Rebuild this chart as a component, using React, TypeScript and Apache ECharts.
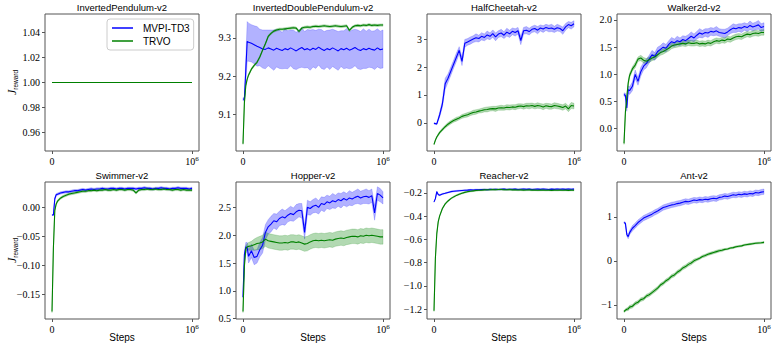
import React, { useEffect, useRef } from "react";
import * as echarts from "echarts";

// x positions (environment steps)
const STEPS = [
  0, 10000, 20000, 30000, 40000, 60000, 80000, 100000, 120000, 140000,
  160000, 180000, 200000, 220000, 240000, 260000, 280000, 300000, 320000, 340000,
  360000, 380000, 400000, 420000, 440000, 460000, 480000, 500000, 520000, 540000,
  560000, 580000, 600000, 620000, 640000, 660000, 680000, 700000, 720000, 740000,
  760000, 780000, 800000, 820000, 840000, 860000, 880000, 900000, 920000, 940000,
  960000, 980000, 1000000,
];
const X_TICKS = [0, 1000000];

// ---- InvertedPendulum-v2
const IP_MVPI = [
  1, 1, 1, 1, 1, 1, 1, 1, 1, 1, 1, 1, 1, 1, 1, 1, 1, 1, 1, 1, 1, 1, 1, 1, 1, 1, 1,
  1, 1, 1, 1, 1, 1, 1, 1, 1, 1, 1, 1, 1, 1, 1, 1, 1, 1, 1, 1, 1, 1, 1, 1, 1, 1,
];
const IP_TRVO = [
  1, 1, 1, 1, 1, 1, 1, 1, 1, 1, 1, 1, 1, 1, 1, 1, 1, 1, 1, 1, 1, 1, 1, 1, 1, 1, 1,
  1, 1, 1, 1, 1, 1, 1, 1, 1, 1, 1, 1, 1, 1, 1, 1, 1, 1, 1, 1, 1, 1, 1, 1, 1, 1,
];
const IP_TICKS = [0.96, 0.98, 1.0, 1.02, 1.04];

// ---- InvertedDoublePendulum-v2
const IDP_MVPI = [
  9.139, 9.140, 9.215, 9.291, 9.289, 9.286, 9.282, 9.278, 9.275, 9.271,
  9.270, 9.274, 9.271, 9.268, 9.273, 9.270, 9.267, 9.272, 9.269, 9.274,
  9.270, 9.266, 9.271, 9.275, 9.269, 9.272, 9.268, 9.273, 9.270, 9.276,
  9.271, 9.267, 9.272, 9.269, 9.274, 9.270, 9.266, 9.272, 9.269, 9.273,
  9.268, 9.271, 9.275, 9.270, 9.267, 9.272, 9.269, 9.273, 9.270, 9.268,
  9.274, 9.269, 9.271,
];
const IDP_MVPI_SD = [
  0.004, 0.005, 0.03, 0.052, 0.05, 0.049, 0.05, 0.052, 0.048, 0.05,
  0.051, 0.047, 0.05, 0.053, 0.049, 0.05, 0.048, 0.052, 0.05, 0.047,
  0.051, 0.049, 0.05, 0.052, 0.048, 0.05, 0.053, 0.049, 0.05, 0.047,
  0.051, 0.05, 0.048, 0.052, 0.049, 0.05, 0.051, 0.047, 0.05, 0.052,
  0.049, 0.05, 0.048, 0.051, 0.05, 0.052, 0.049, 0.05, 0.048, 0.051,
  0.05, 0.049, 0.05,
];
const IDP_TRVO = [
  9.022, 9.13, 9.175, 9.192, 9.203, 9.218, 9.228, 9.236, 9.25, 9.268,
  9.285, 9.304, 9.312, 9.318, 9.321, 9.323, 9.323, 9.324, 9.325, 9.326,
  9.327, 9.326, 9.317, 9.326, 9.328, 9.329, 9.328, 9.330, 9.331, 9.330,
  9.331, 9.332, 9.331, 9.330, 9.331, 9.332, 9.331, 9.330, 9.331, 9.332,
  9.320, 9.328, 9.332, 9.333, 9.332, 9.334, 9.333, 9.335, 9.333, 9.334,
  9.333, 9.334, 9.334,
];
const IDP_TRVO_SD = [
  0.002, 0.003, 0.003, 0.003, 0.003, 0.003, 0.003, 0.003, 0.003, 0.003,
  0.003, 0.003, 0.003, 0.003, 0.003, 0.003, 0.003, 0.003, 0.003, 0.003,
  0.003, 0.003, 0.003, 0.003, 0.003, 0.003, 0.003, 0.003, 0.003, 0.003,
  0.003, 0.003, 0.003, 0.003, 0.003, 0.003, 0.003, 0.003, 0.003, 0.003,
  0.003, 0.003, 0.003, 0.003, 0.003, 0.003, 0.003, 0.003, 0.003, 0.003,
  0.003, 0.003, 0.003,
];
const IDP_TICKS = [9.1, 9.2, 9.3];

// ---- HalfCheetah-v2
const HC_MVPI = [
  -0.02, -0.03, -0.04, 0.12, 0.28, 0.68, 1.4, 1.6, 1.85, 2.1,
  2.35, 2.6, 2.2, 2.85, 2.9, 2.95, 3.0, 3.05, 3.02, 3.1,
  3.06, 3.15, 3.1, 3.2, 3.08, 3.18, 3.22, 3.14, 3.25, 3.19,
  3.28, 3.24, 3.3, 2.95, 3.3, 3.32, 3.27, 3.35, 3.38, 3.32,
  3.4, 3.36, 3.42, 3.38, 3.4, 3.35, 3.41, 3.38, 3.3, 3.44,
  3.52, 3.48, 3.55,
];
const HC_MVPI_SD = [
  0.02, 0.02, 0.03, 0.05, 0.08, 0.12, 0.2, 0.15, 0.15, 0.14,
  0.15, 0.13, 0.15, 0.14, 0.12, 0.13, 0.12, 0.14, 0.12, 0.13,
  0.12, 0.14, 0.12, 0.13, 0.14, 0.12, 0.13, 0.12, 0.14, 0.13,
  0.12, 0.13, 0.12, 0.15, 0.12, 0.13, 0.12, 0.11, 0.12, 0.13,
  0.11, 0.12, 0.11, 0.12, 0.13, 0.11, 0.12, 0.11, 0.13, 0.12,
  0.11, 0.12, 0.11,
];
const HC_TRVO = [
  -0.77, -0.62, -0.51, -0.43, -0.35, -0.24, -0.14, -0.05, 0.02, 0.08,
  0.13, 0.17, 0.23, 0.26, 0.29, 0.33, 0.37, 0.39, 0.42, 0.44,
  0.47, 0.48, 0.5, 0.51, 0.5, 0.53, 0.54, 0.53, 0.56, 0.55,
  0.57, 0.56, 0.59, 0.6, 0.58, 0.61, 0.6, 0.62, 0.59, 0.62,
  0.6, 0.57, 0.61, 0.59, 0.58, 0.62, 0.6, 0.58, 0.55, 0.6,
  0.5, 0.62, 0.6,
];
const HC_TRVO_SD = [
  0.02, 0.03, 0.03, 0.04, 0.04, 0.05, 0.05, 0.06, 0.06, 0.06,
  0.07, 0.06, 0.07, 0.07, 0.08, 0.07, 0.08, 0.08, 0.07, 0.08,
  0.08, 0.09, 0.08, 0.08, 0.09, 0.08, 0.09, 0.08, 0.09, 0.09,
  0.08, 0.09, 0.09, 0.08, 0.09, 0.09, 0.1, 0.09, 0.09, 0.1,
  0.09, 0.1, 0.09, 0.1, 0.09, 0.1, 0.1, 0.09, 0.1, 0.1,
  0.1, 0.11, 0.1,
];
const HC_TICKS = [0, 1, 2, 3];

// ---- Walker2d-v2
const WK_MVPI = [
  0.63, 0.61, 0.38, 0.72, 0.7, 0.78, 1.0, 0.87, 1.05, 1.15,
  1.2, 1.28, 1.36, 1.33, 1.42, 1.46, 1.5, 1.48, 1.55, 1.6,
  1.58, 1.62, 1.6, 1.64, 1.62, 1.66, 1.7, 1.67, 1.72, 1.76,
  1.74, 1.77, 1.76, 1.79, 1.78, 1.8, 1.77, 1.76, 1.75, 1.78,
  1.82, 1.85, 1.84, 1.86, 1.85, 1.88, 1.86, 1.9, 1.87, 1.89,
  1.91, 1.86, 1.88,
];
const WK_MVPI_SD = [
  0.03, 0.04, 0.06, 0.07, 0.07, 0.08, 0.08, 0.07, 0.08, 0.07,
  0.08, 0.07, 0.08, 0.07, 0.08, 0.07, 0.08, 0.07, 0.07, 0.08,
  0.07, 0.08, 0.07, 0.07, 0.08, 0.07, 0.08, 0.07, 0.07, 0.08,
  0.07, 0.07, 0.08, 0.07, 0.07, 0.08, 0.07, 0.07, 0.08, 0.07,
  0.07, 0.08, 0.07, 0.07, 0.08, 0.07, 0.07, 0.08, 0.07, 0.07,
  0.08, 0.07, 0.07,
];
const WK_TRVO = [
  -0.27, 0.3, 0.58, 0.84, 0.98, 1.1, 1.17, 1.28, 1.3, 1.26,
  1.24, 1.27, 1.3, 1.32, 1.36, 1.4, 1.42, 1.45, 1.48, 1.52,
  1.54, 1.55, 1.56, 1.57, 1.56, 1.58, 1.57, 1.57, 1.58, 1.56,
  1.57, 1.56, 1.58, 1.57, 1.6, 1.62, 1.61, 1.63, 1.62, 1.65,
  1.64, 1.67, 1.69, 1.7, 1.69, 1.72, 1.74, 1.73, 1.75, 1.76,
  1.75, 1.77, 1.77,
];
const WK_TRVO_SD = [
  0.02, 0.03, 0.03, 0.04, 0.04, 0.04, 0.05, 0.04, 0.05, 0.05,
  0.05, 0.05, 0.05, 0.05, 0.05, 0.05, 0.05, 0.05, 0.05, 0.05,
  0.05, 0.05, 0.05, 0.05, 0.05, 0.05, 0.05, 0.05, 0.05, 0.05,
  0.05, 0.05, 0.05, 0.05, 0.05, 0.05, 0.05, 0.05, 0.05, 0.05,
  0.05, 0.05, 0.05, 0.05, 0.05, 0.05, 0.05, 0.05, 0.05, 0.05,
  0.05, 0.05, 0.05,
];
const WK_TICKS = [0, 0.5, 1.0, 1.5, 2.0];

// ---- Swimmer-v2
const SW_MVPI = [
  -0.013, -0.013, 0.015, 0.022, 0.023, 0.025, 0.026, 0.027, 0.027, 0.028,
  0.029, 0.029, 0.030, 0.031, 0.030, 0.031, 0.032, 0.031, 0.032, 0.032,
  0.033, 0.032, 0.032, 0.033, 0.033, 0.032, 0.033, 0.033, 0.032, 0.033,
  0.033, 0.033, 0.032, 0.033, 0.033, 0.034, 0.033, 0.033, 0.032, 0.033,
  0.033, 0.034, 0.033, 0.033, 0.032, 0.033, 0.033, 0.034, 0.033, 0.033,
  0.033, 0.032, 0.033,
];
const SW_MVPI_SD = [
  0.001, 0.001, 0.002, 0.002, 0.002, 0.002, 0.002, 0.002, 0.002, 0.002,
  0.002, 0.002, 0.002, 0.002, 0.002, 0.002, 0.002, 0.002, 0.002, 0.002,
  0.002, 0.002, 0.002, 0.002, 0.002, 0.002, 0.002, 0.002, 0.002, 0.002,
  0.002, 0.002, 0.002, 0.002, 0.002, 0.002, 0.002, 0.002, 0.002, 0.002,
  0.002, 0.002, 0.002, 0.002, 0.002, 0.002, 0.002, 0.002, 0.002, 0.002,
  0.002, 0.002, 0.002,
];
const SW_TRVO = [
  -0.18, -0.07, -0.005, 0.006, 0.011, 0.016, 0.019, 0.021, 0.023, 0.024,
  0.025, 0.026, 0.027, 0.028, 0.028, 0.029, 0.029, 0.030, 0.029, 0.030,
  0.030, 0.031, 0.030, 0.030, 0.031, 0.030, 0.031, 0.031, 0.030, 0.031,
  0.031, 0.030, 0.025, 0.030, 0.031, 0.031, 0.032, 0.031, 0.031, 0.032,
  0.031, 0.031, 0.032, 0.031, 0.031, 0.030, 0.031, 0.031, 0.030, 0.031,
  0.030, 0.030, 0.030,
];
const SW_TRVO_SD = [
  0.002, 0.002, 0.002, 0.002, 0.002, 0.002, 0.002, 0.002, 0.002, 0.002,
  0.002, 0.002, 0.002, 0.002, 0.002, 0.002, 0.002, 0.002, 0.002, 0.002,
  0.002, 0.002, 0.002, 0.002, 0.002, 0.002, 0.002, 0.002, 0.002, 0.002,
  0.002, 0.002, 0.002, 0.002, 0.002, 0.002, 0.002, 0.002, 0.002, 0.002,
  0.002, 0.002, 0.002, 0.002, 0.002, 0.002, 0.002, 0.002, 0.002, 0.002,
  0.002, 0.002, 0.002,
];
const SW_TICKS = [-0.15, -0.1, -0.05, 0.0];

// ---- Hopper-v2
const HP_MVPI = [
  0.89, 1.65, 1.79, 1.77, 1.62, 1.72, 1.6, 1.62, 1.74, 1.82,
  2.05, 2.15, 2.2, 2.26, 2.24, 2.3, 2.33, 2.31, 2.36, 2.39,
  2.37, 2.42, 2.45, 2.44, 2.05, 2.5, 2.48, 2.52, 2.54, 2.5,
  2.57, 2.55, 2.6, 2.58, 2.62, 2.6, 2.64, 2.62, 2.66, 2.63,
  2.67, 2.65, 2.68, 2.7, 2.67, 2.69, 2.7, 2.68, 2.71, 2.4,
  2.75, 2.72, 2.67,
];
const HP_MVPI_SD = [
  0.02, 0.05, 0.08, 0.1, 0.12, 0.12, 0.13, 0.12, 0.13, 0.14,
  0.14, 0.13, 0.14, 0.13, 0.14, 0.13, 0.14, 0.13, 0.12, 0.13,
  0.12, 0.13, 0.12, 0.13, 0.12, 0.13, 0.12, 0.12, 0.13, 0.12,
  0.12, 0.13, 0.12, 0.12, 0.13, 0.12, 0.12, 0.13, 0.12, 0.12,
  0.13, 0.12, 0.12, 0.13, 0.12, 0.12, 0.13, 0.12, 0.12, 0.13,
  0.12, 0.12, 0.11,
];
const HP_TRVO = [
  0.63, 1.45, 1.76, 1.79, 1.8, 1.81, 1.83, 1.85, 1.86, 1.88,
  1.93, 1.9, 1.89, 1.88, 1.87, 1.86, 1.86, 1.87, 1.86, 1.88,
  1.88, 1.87, 1.88, 1.86, 1.84, 1.85, 1.88, 1.9, 1.91, 1.9,
  1.91, 1.9, 1.91, 1.92, 1.91, 1.93, 1.94, 1.95, 1.94, 1.96,
  1.97, 1.98, 1.98, 1.97, 1.99, 1.98, 2.0, 1.99, 2.0, 1.99,
  1.98, 1.97, 1.97,
];
const HP_TRVO_SD = [
  0.02, 0.04, 0.05, 0.06, 0.07, 0.08, 0.1, 0.11, 0.12, 0.12,
  0.13, 0.13, 0.13, 0.13, 0.13, 0.13, 0.13, 0.13, 0.13, 0.13,
  0.13, 0.13, 0.13, 0.13, 0.13, 0.13, 0.13, 0.13, 0.13, 0.13,
  0.13, 0.13, 0.13, 0.13, 0.13, 0.13, 0.13, 0.13, 0.13, 0.13,
  0.13, 0.13, 0.13, 0.13, 0.13, 0.13, 0.13, 0.13, 0.13, 0.13,
  0.13, 0.13, 0.13,
];
const HP_TICKS = [0.5, 1.0, 1.5, 2.0, 2.5];

// ---- Reacher-v2
const RC_MVPI = [
  -0.278, -0.25, -0.19, -0.215, -0.22, -0.21, -0.204, -0.197, -0.19, -0.187,
  -0.184, -0.182, -0.18, -0.178, -0.177, -0.175, -0.176, -0.173, -0.174, -0.172,
  -0.171, -0.173, -0.17, -0.171, -0.169, -0.172, -0.17, -0.168, -0.171, -0.169,
  -0.17, -0.168, -0.171, -0.169, -0.167, -0.17, -0.168, -0.171, -0.169, -0.168,
  -0.17, -0.167, -0.169, -0.171, -0.168, -0.17, -0.167, -0.169, -0.168, -0.17,
  -0.167, -0.169, -0.168,
];
const RC_MVPI_SD = [
  0.004, 0.005, 0.005, 0.005, 0.005, 0.005, 0.005, 0.005, 0.005, 0.005,
  0.005, 0.005, 0.005, 0.005, 0.005, 0.005, 0.005, 0.005, 0.005, 0.005,
  0.005, 0.005, 0.005, 0.005, 0.005, 0.005, 0.005, 0.005, 0.005, 0.005,
  0.005, 0.005, 0.005, 0.005, 0.005, 0.005, 0.005, 0.005, 0.005, 0.005,
  0.005, 0.005, 0.005, 0.005, 0.005, 0.005, 0.005, 0.005, 0.005, 0.005,
  0.005, 0.005, 0.005,
];
const RC_TRVO = [
  -1.214, -0.76, -0.55, -0.45, -0.4, -0.335, -0.295, -0.27, -0.25, -0.235,
  -0.222, -0.212, -0.203, -0.196, -0.19, -0.186, -0.183, -0.18, -0.178, -0.177,
  -0.175, -0.174, -0.173, -0.172, -0.173, -0.171, -0.172, -0.173, -0.174, -0.172,
  -0.175, -0.174, -0.176, -0.175, -0.177, -0.176, -0.175, -0.177, -0.176, -0.178,
  -0.177, -0.176, -0.178, -0.177, -0.179, -0.177, -0.178, -0.176, -0.178, -0.177,
  -0.179, -0.177, -0.178,
];
const RC_TRVO_SD = [
  0.006, 0.006, 0.006, 0.006, 0.006, 0.006, 0.006, 0.006, 0.006, 0.006,
  0.006, 0.006, 0.006, 0.006, 0.006, 0.006, 0.006, 0.006, 0.006, 0.006,
  0.006, 0.006, 0.006, 0.006, 0.006, 0.006, 0.006, 0.006, 0.006, 0.006,
  0.006, 0.006, 0.006, 0.006, 0.006, 0.006, 0.006, 0.006, 0.006, 0.006,
  0.006, 0.006, 0.006, 0.006, 0.006, 0.006, 0.006, 0.006, 0.006, 0.006,
  0.006, 0.006, 0.006,
];
const RC_TICKS = [-1.2, -1.0, -0.8, -0.6, -0.4, -0.2];

// ---- Ant-v2
const AN_MVPI = [
  0.87, 0.85, 0.6, 0.55, 0.64, 0.74, 0.8, 0.87, 0.92, 0.97,
  1.0, 1.03, 1.06, 1.1, 1.13, 1.17, 1.21, 1.23, 1.25, 1.27,
  1.28, 1.3, 1.31, 1.33, 1.35, 1.34, 1.36, 1.38, 1.37, 1.39,
  1.38, 1.4, 1.39, 1.41, 1.42, 1.41, 1.44, 1.45, 1.47, 1.46,
  1.48, 1.5, 1.49, 1.51, 1.5, 1.52, 1.51, 1.53, 1.52, 1.55,
  1.54, 1.56, 1.57,
];
const AN_MVPI_SD = [
  0.02, 0.03, 0.04, 0.05, 0.05, 0.06, 0.06, 0.06, 0.06, 0.06,
  0.06, 0.06, 0.06, 0.06, 0.06, 0.06, 0.06, 0.06, 0.06, 0.06,
  0.06, 0.06, 0.06, 0.06, 0.06, 0.06, 0.06, 0.06, 0.06, 0.06,
  0.06, 0.06, 0.06, 0.06, 0.06, 0.06, 0.06, 0.06, 0.06, 0.06,
  0.06, 0.06, 0.06, 0.06, 0.06, 0.06, 0.06, 0.06, 0.06, 0.06,
  0.06, 0.06, 0.06,
];
const AN_TRVO = [
  -1.15, -1.12, -1.1, -1.09, -1.05, -1.03, -0.97, -0.94, -0.88, -0.86,
  -0.8, -0.77, -0.72, -0.67, -0.62, -0.55, -0.51, -0.45, -0.41, -0.35,
  -0.32, -0.26, -0.22, -0.16, -0.13, -0.08, -0.05, 0.0, 0.03, 0.06,
  0.1, 0.12, 0.15, 0.17, 0.19, 0.21, 0.23, 0.24, 0.26, 0.27,
  0.29, 0.3, 0.32, 0.33, 0.34, 0.36, 0.37, 0.38, 0.39, 0.4,
  0.405, 0.41, 0.42,
];
const AN_TRVO_SD = [
  0.02, 0.03, 0.03, 0.04, 0.04, 0.04, 0.04, 0.04, 0.04, 0.04,
  0.04, 0.04, 0.04, 0.04, 0.04, 0.04, 0.04, 0.04, 0.04, 0.04,
  0.04, 0.04, 0.04, 0.04, 0.04, 0.04, 0.04, 0.04, 0.03, 0.03,
  0.03, 0.03, 0.03, 0.03, 0.03, 0.03, 0.03, 0.03, 0.02, 0.02,
  0.02, 0.02, 0.02, 0.02, 0.02, 0.02, 0.02, 0.02, 0.02, 0.02,
  0.02, 0.02, 0.02,
];
const AN_TICKS = [-1, 0, 1];

const PANELS = [
  { title: "InvertedPendulum-v2", m: IP_MVPI, mSd: null, t: IP_TRVO, tSd: null, yMin: 0.945, yMax: 1.055, ticks: IP_TICKS, dec: 2 },
  { title: "InvertedDoublePendulum-v2", m: IDP_MVPI, mSd: IDP_MVPI_SD, t: IDP_TRVO, tSd: IDP_TRVO_SD, yMin: 9.003, yMax: 9.363, ticks: IDP_TICKS, dec: 1 },
  { title: "HalfCheetah-v2", m: HC_MVPI, mSd: HC_MVPI_SD, t: HC_TRVO, tSd: HC_TRVO_SD, yMin: -1.01, yMax: 3.9, ticks: HC_TICKS, dec: 0 },
  { title: "Walker2d-v2", m: WK_MVPI, mSd: WK_MVPI_SD, t: WK_TRVO, tSd: WK_TRVO_SD, yMin: -0.41, yMax: 2.11, ticks: WK_TICKS, dec: 1 },
  { title: "Swimmer-v2", m: SW_MVPI, mSd: SW_MVPI_SD, t: SW_TRVO, tSd: SW_TRVO_SD, yMin: -0.193, yMax: 0.044, ticks: SW_TICKS, dec: 2 },
  { title: "Hopper-v2", m: HP_MVPI, mSd: HP_MVPI_SD, t: HP_TRVO, tSd: HP_TRVO_SD, yMin: 0.495, yMax: 2.956, ticks: HP_TICKS, dec: 1 },
  { title: "Reacher-v2", m: RC_MVPI, mSd: RC_MVPI_SD, t: RC_TRVO, tSd: RC_TRVO_SD, yMin: -1.284, yMax: -0.107, ticks: RC_TICKS, dec: 1 },
  { title: "Ant-v2", m: AN_MVPI, mSd: AN_MVPI_SD, t: AN_TRVO, tSd: AN_TRVO_SD, yMin: -1.32, yMax: 1.79, ticks: AN_TICKS, dec: 0 },
];

// layout
const COL_LEFT = [45, 236, 427, 617];
const ROW_TOP = [14, 182];
const GRID_W = 154;
const GRID_H = 137;

const BLUE = "#0000ff";
const GREEN = "#008000";
const BLUE_BAND = "rgba(0,0,255,0.3)";
const GREEN_BAND = "rgba(0,128,0,0.3)";
const SERIF = "Liberation Serif";
const SANS = "Liberation Sans";
const AXIS_COLOR = "#555";

function bandSeries(k: number, mean: number[], sd: number[], color: string) {
  const lo = mean.map((v, i) => v - sd[i]);
  const hi = mean.map((v, i) => v + sd[i]);
  return {
    type: "custom",
    xAxisIndex: k,
    yAxisIndex: k,
    silent: true,
    clip: true,
    data: STEPS.map((s, i) => [s, lo[i], hi[i]]),
    encode: { x: 0, y: [1, 2] },
    renderItem: (params: any, api: any) => {
      if (params.dataIndexInside !== 0) return null;
      const pts: number[][] = [];
      for (let i = 0; i < STEPS.length; i++) pts.push(api.coord([STEPS[i], hi[i]]));
      for (let i = STEPS.length - 1; i >= 0; i--) pts.push(api.coord([STEPS[i], lo[i]]));
      return {
        type: "polygon",
        shape: { points: pts },
        style: { fill: color, stroke: color, lineWidth: 0.6 },
      };
    },
  };
}

function lineSeries(k: number, name: string, values: number[], color: string) {
  return {
    type: "line",
    name,
    xAxisIndex: k,
    yAxisIndex: k,
    data: STEPS.map((s, i) => [s, values[i]]),
    symbol: "none",
    showSymbol: false,
    color,
    lineStyle: { color, width: 1.1 },
    clip: true,
  };
}

const fmtY = (dec: number) => (v: number) => {
  const s = Math.abs(v) < 1e-9 ? (0).toFixed(dec) : v.toFixed(dec);
  return s.replace("-", "\u2212");
};

export default function App() {
  const ref = useRef<HTMLDivElement>(null);
  useEffect(() => {
    document.body.style.margin = "0";
    if (!ref.current) return;
    const chart = echarts.init(ref.current, null, { renderer: "svg" });

    const grid: any[] = [];
    const xAxis: any[] = [];
    const yAxis: any[] = [];
    const series: any[] = [];
    const graphic: any[] = [];

    PANELS.forEach((p, k) => {
      const row = Math.floor(k / 4);
      const col = k % 4;
      const left = COL_LEFT[col];
      const top = ROW_TOP[row];
      grid.push({
        left,
        top,
        width: GRID_W,
        height: GRID_H,
        show: true,
        borderColor: AXIS_COLOR,
        borderWidth: 1,
        backgroundColor: "transparent",
        containLabel: false,
      });
      xAxis.push({
        type: "value",
        gridIndex: k,
        position: "bottom",
        min: -50000,
        max: 1050000,
        axisLine: { show: false, onZero: false },
        splitLine: { show: false },
        axisTick: {
          show: true,
          customValues: X_TICKS,
          length: 3,
          lineStyle: { color: AXIS_COLOR, width: 1 },
        },
        axisLabel: {
          show: true,
          customValues: X_TICKS,
          margin: 4,
          color: "#000",
          fontFamily: SERIF,
          fontSize: 10,
          formatter: (v: number) => (v === 0 ? "{a|0}" : "{a|10}{b|6}"),
          rich: {
            a: { fontFamily: SERIF, fontSize: 10, color: "#000", lineHeight: 12 },
            b: { fontFamily: SERIF, fontSize: 7, color: "#000", lineHeight: 8, verticalAlign: "top" },
          },
        },
      });
      yAxis.push({
        type: "value",
        gridIndex: k,
        position: "left",
        min: p.yMin,
        max: p.yMax,
        axisLine: { show: false, onZero: false },
        splitLine: { show: false },
        axisTick: {
          show: true,
          customValues: p.ticks,
          length: 3,
          lineStyle: { color: AXIS_COLOR, width: 1 },
        },
        axisLabel: {
          show: true,
          customValues: p.ticks,
          margin: 5,
          color: "#000",
          fontFamily: SERIF,
          fontSize: 10,
          formatter: fmtY(p.dec),
        },
      });
      if (p.mSd) series.push(bandSeries(k, p.m, p.mSd, BLUE_BAND));
      series.push(lineSeries(k, "MVPI-TD3", p.m, BLUE));
      if (p.tSd) series.push(bandSeries(k, p.t, p.tSd, GREEN_BAND));
      series.push(lineSeries(k, "TRVO", p.t, GREEN));

      graphic.push({
        type: "text",
        x: left + GRID_W / 2,
        y: top - 7,
        silent: true,
        style: {
          text: p.title,
          align: "center",
          verticalAlign: "middle",
          fontFamily: SANS,
          fontSize: 9.5,
          fontWeight: "normal",
          fill: "#000",
        },
      });
      if (row === 1) {
        graphic.push({
          type: "text",
          x: left + GRID_W / 2,
          y: 337,
          silent: true,
          style: {
            text: "Steps",
            align: "center",
            verticalAlign: "middle",
            fontFamily: SANS,
            fontSize: 10,
            fontWeight: "normal",
            fill: "#000",
          },
        });
      }
      if (col === 0) {
        graphic.push({
          type: "text",
          x: 12,
          y: top + GRID_H / 2,
          rotation: Math.PI / 2,
          silent: true,
          style: {
            text: "{j|J}{s|reward}",
            align: "center",
            verticalAlign: "middle",
            rich: {
              j: { fontFamily: SERIF, fontStyle: "italic", fontSize: 12, fill: "#000", lineHeight: 14 },
              s: { fontFamily: SANS, fontSize: 6.5, fill: "#000", lineHeight: 8, verticalAlign: "bottom" },
            },
          },
        });
      }
    });

    chart.setOption({
      animation: false,
      backgroundColor: "#fff",
      grid,
      xAxis,
      yAxis,
      series,
      graphic,
      legend: {
        data: ["MVPI-TD3", "TRVO"],
        orient: "vertical",
        left: 107,
        top: 19,
        icon: "rect",
        itemWidth: 21,
        itemHeight: 1.5,
        itemGap: 3,
        padding: [4, 4, 4, 5],
        backgroundColor: "rgba(255,255,255,0.8)",
        borderColor: "#cccccc",
        borderWidth: 1,
        borderRadius: 3,
        selectedMode: false,
        textStyle: { fontFamily: SANS, fontSize: 10, color: "#000", padding: [0, 0, 0, 5] },
      },
    });
    return () => chart.dispose();
  }, []);
  return (
    <div
      ref={ref}
      style={{ width: 775, height: 347, position: "absolute", left: 0, top: 0 }}
    />
  );
}
